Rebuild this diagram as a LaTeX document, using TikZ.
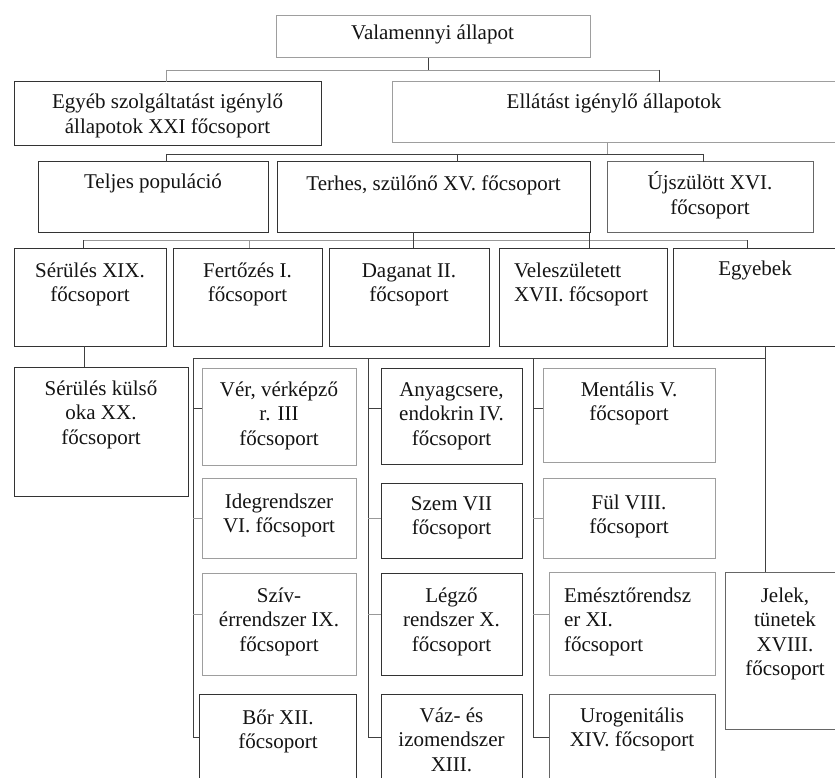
\documentclass[tikz,border=0pt]{standalone}
\usepackage{fontspec}
\setmainfont{Liberation Serif}
\newcommand\bx[6]{\node[#1, minimum width={(#5-#3)*1pt}, minimum height={(#6-#4)*1pt}] (#2) at ({(#3+#5)/2},{(#4+#6)/2}) {};}
\newcommand\tx[4]{\node[txt, anchor=base] (#1) at (#2,#3) {\begin{tabular}[t]{@{}c@{}}#4\end{tabular}};}
\newcommand\txl[4]{\node[txt, anchor=base west] (#1) at (#2,#3) {\begin{tabular}[t]{@{}l@{}}#4\end{tabular}};}
\begin{document}
\begin{tikzpicture}[x=1pt,y=-1pt,
  every node/.style={inner sep=0pt, outer sep=0pt},
  dbox/.style={draw=black!80, line width=1pt, rectangle},
  mbox/.style={draw=black!60, line width=1pt, rectangle},
  lbox/.style={draw=black!38, line width=1pt, rectangle},
  txt/.style={font=\fontsize{21}{24.5}\selectfont, text=black!92},
  con/.style={draw=black!75, line width=0.9pt},
  conl/.style={draw=black!40, line width=0.9pt}]
\useasboundingbox[fill=white] (0,0) rectangle (835,778);
% boxes
\bx{lbox}{top}{276}{16}{590}{58}
\bx{dbox}{egyeb}{14}{82}{321}{146}
\bx{lbox}{ellatast}{392}{82}{838}{143}
\bx{dbox}{teljes}{38}{162}{268}{232}
\bx{dbox}{terhes}{277}{162}{590}{232}
\bx{mbox}{ujsz}{607}{162}{813}{232}
\bx{dbox}{serules}{14}{248}{166}{346}
\bx{dbox}{fertozes}{173}{248}{322}{346}
\bx{dbox}{daganat}{329}{248}{489}{346}
\bx{dbox}{velesz}{499}{248}{667}{346}
\bx{dbox}{egyebek}{673}{248}{840}{346}
\bx{dbox}{kulso}{14}{367}{188}{496}
\bx{lbox}{ver}{202}{368}{356}{465}
\bx{lbox}{ideg}{202}{478}{356}{558}
\bx{lbox}{sziv}{202}{573}{356}{675}
\bx{dbox}{bor}{199}{694}{356}{800}
\bx{dbox}{anyag}{381}{368}{522}{464}
\bx{dbox}{szem}{381}{483}{522}{558}
\bx{dbox}{legzo}{381}{573}{522}{675}
\bx{dbox}{vaz}{381}{694}{522}{800}
\bx{lbox}{ment}{543}{368}{715}{462}
\bx{lbox}{ful}{543}{478}{715}{558}
\bx{lbox}{emeszt}{549}{572}{715}{675}
\bx{mbox}{uro}{549}{694}{715}{800}
\bx{mbox}{jelek}{725}{572}{845}{729}
% texts
\tx{t-top}{432.5}{40}{Valamennyi állapot}
\tx{t-egyeb}{167.5}{109}{Egyéb szolgáltatást igénylő\\állapotok XXI főcsoport}
\tx{t-ellatast}{614}{109}{Ellátást igénylő állapotok}
\tx{t-teljes}{153}{189}{Teljes populáció}
\tx{t-terhes}{433.5}{191}{Terhes, szülőnő XV. főcsoport}
\tx{t-ujsz}{710}{190}{Újszülött XVI.\\főcsoport}
\tx{t-serules}{90}{277}{Sérülés XIX.\\főcsoport}
\tx{t-fertozes}{247.5}{277}{Fertőzés I.\\főcsoport}
\tx{t-daganat}{409}{277}{Daganat II.\\főcsoport}
\txl{t-velesz}{514}{277}{Veleszületett\\XVII. főcsoport}
\tx{t-egyebek}{755}{275}{Egyebek}
\tx{t-kulso}{101}{395}{Sérülés külső\\oka XX.\\főcsoport}
\tx{t-ver}{279}{396}{Vér, vérképző\\r. III\\főcsoport}
\tx{t-ideg}{279}{508}{Idegrendszer\\VI. főcsoport}
\tx{t-sziv}{279}{602}{Szív-\\érrendszer IX.\\főcsoport}
\tx{t-bor}{278}{724}{Bőr XII.\\főcsoport}
\tx{t-anyag}{451.5}{396}{Anyagcsere,\\endokrin IV.\\főcsoport}
\tx{t-szem}{451.5}{510}{Szem VII\\főcsoport}
\tx{t-legzo}{451.5}{602}{Légző\\rendszer X.\\főcsoport}
\tx{t-vaz}{451.5}{722}{Váz- és\\izomendszer\\XIII.}
\tx{t-ment}{629}{396}{Mentális V.\\főcsoport}
\tx{t-ful}{629}{509}{Fül VIII.\\főcsoport}
\txl{t-emeszt}{564}{602}{Emésztőrendsz\\er XI.\\főcsoport}
\tx{t-uro}{632}{722}{Urogenitális\\XIV. főcsoport}
\tx{t-jelek}{785}{602}{Jelek,\\tünetek\\XVIII.\\főcsoport}
% level 1 -> 2
\coordinate (b1) at (428,70);
\coordinate (b1l) at (166,70);
\coordinate (b1r) at (659,70);
\draw[con] (top.south -| b1) -- (b1);
\draw[conl] (b1l) -- (b1r);
\draw[conl] (b1l) -- (egyeb.north -| b1l);
\draw[con] (b1r) -- (ellatast.north -| b1r);
% level 2 -> 3
\coordinate (b2) at (607,154);
\coordinate (b2l) at (166,154);
\coordinate (b2m) at (457,154);
\coordinate (b2r) at (703,154);
\draw[conl] (ellatast.south -| b2) -- (b2);
\draw[con] (b2l) -- (b2r);
\draw[con] (b2l) -- (teljes.north -| b2l);
\draw[con] (b2m) -- (terhes.north -| b2m);
\draw[con] (b2r) -- (ujsz.north -| b2r);
% level 3 -> 4
\coordinate (b3a) at (83,240);
\coordinate (b3b) at (249,240);
\coordinate (b3c) at (413,240);
\coordinate (b3d) at (589,240);
\coordinate (b3e) at (747,240);
\draw[conl] (b3a) -- (b3e);
\draw[con] (b3a) -- (serules.north -| b3a);
\draw[conl] (b3b) -- (fertozes.north -| b3b);
\draw[con] (terhes.south -| b3c) -- (daganat.north -| b3c);
\draw[con] (terhes.south -| b3d) -- (velesz.north -| b3d);
\draw[con] (b3e) -- (egyebek.north -| b3e);
% level 4 -> 5
\coordinate (s1) at (84,0);
\draw[con] (serules.south -| s1) -- (kulso.north -| s1);
\coordinate (e1) at (765,358);
\coordinate (bar) at (193,358);
\draw[con] (egyebek.south -| e1) -- (jelek.north -| e1);
\draw[con] (bar) -- (e1);
% column trunks
\coordinate (c1) at (193,737);
\coordinate (c2) at (368,737);
\coordinate (c3) at (533,737);
\draw[con] (bar) -- (c1) -- (bor.west |- c1);
\draw[con] (c2 |- bar) -- (c2) -- (vaz.west |- c2);
\draw[con] (c3 |- bar) -- (c3) -- (uro.west |- c3);
\coordinate (r1) at (0,408);
\coordinate (r2) at (0,518);
\coordinate (r3) at (0,614);
\draw[con] (c1 |- r1) -- (ver.west |- r1);
\draw[conl] (c1 |- r2) -- (ideg.west |- r2);
\draw[conl] (c1 |- r3) -- (sziv.west |- r3);
\draw[con] (c2 |- r1) -- (anyag.west |- r1);
\draw[conl] (c2 |- r2) -- (szem.west |- r2);
\draw[conl] (c2 |- r3) -- (legzo.west |- r3);
\draw[con] (c3 |- r1) -- (ment.west |- r1);
\draw[conl] (c3 |- r2) -- (ful.west |- r2);
\draw[conl] (c3 |- r3) -- (emeszt.west |- r3);
\end{tikzpicture}
\end{document}
